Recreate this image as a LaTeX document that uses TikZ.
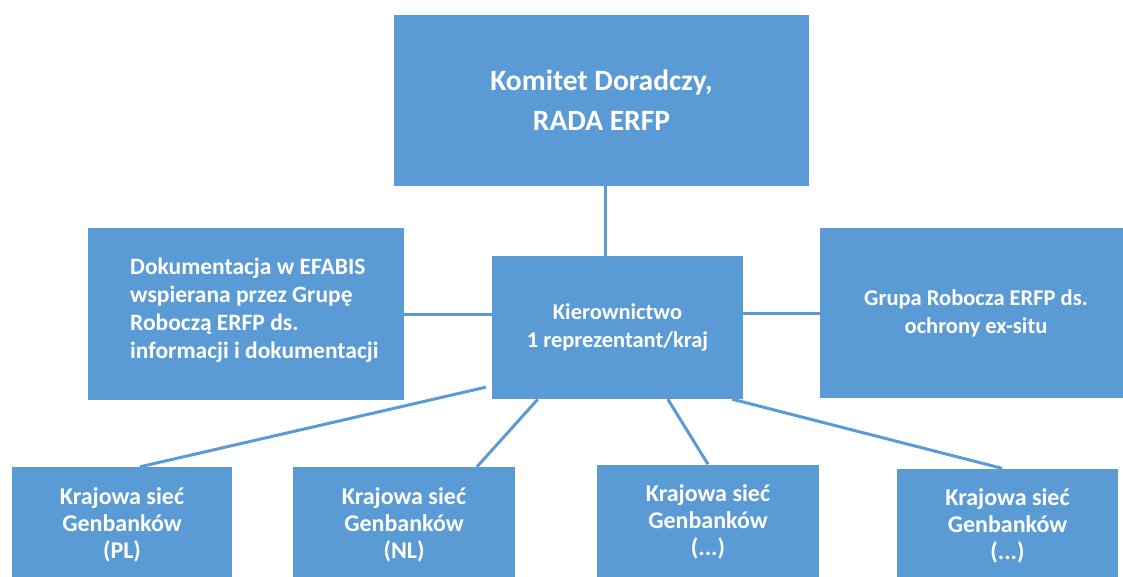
\documentclass[tikz,border=0pt]{standalone}
\usepackage{fontspec}
\setmainfont{Carlito}
\usetikzlibrary{calc}
\definecolor{boxblue}{RGB}{91,155,213}
\tikzset{
  orgbox/.style={fill=boxblue, draw=none, inner sep=0pt, text=white, font=\bfseries\fontsize{22.5}{28}\selectfont, align=center},
  bigtext/.style={font=\bfseries\fontsize{29.5}{40}\selectfont},
  smalltext/.style={font=\bfseries\fontsize{24}{27}\selectfont},
  link/.style={draw=boxblue, line width=3pt}
}
\begin{document}
\begin{tikzpicture}[x=1pt,y=-1pt]
\useasboundingbox (0,0) rectangle (1123,576);
% boxes
\node[orgbox, bigtext, minimum width=415pt, minimum height=171pt] (top) at (601.5,100.5) {\raisebox{-4pt}{\parbox{300pt}{\centering Komitet Doradczy,\\RADA ERFP}}};
\node[orgbox, minimum width=316pt, minimum height=172pt] (left) at (246,314) {};
\node[text=white, font=\bfseries\fontsize{23.5}{28}\selectfont, align=left, anchor=west, inner sep=0pt] (lefttext) at (130,310)
  {Dokumentacja w EFABIS\\wspierana przez Grupę\\Roboczą ERFP ds.\\informacji i dokumentacji};
\node[orgbox, minimum width=251pt, minimum height=143pt] (mid) at (617.5,327.5) {Kierownictwo\\1 reprezentant/kraj};
\node[orgbox, minimum width=312pt, minimum height=170pt] (right) at (976,313) {Grupa Robocza ERFP ds.\\ochrony ex-situ};
\node[orgbox, smalltext, minimum width=220pt, minimum height=115pt] (b1) at (122,524.5) {Krajowa sieć\\Genbanków\\(PL)};
\node[orgbox, smalltext, minimum width=222pt, minimum height=115pt] (b2) at (404,524.5) {Krajowa sieć\\Genbanków\\(NL)};
\node[orgbox, smalltext, minimum width=222pt, minimum height=115pt] (b3) at (708,522) {Krajowa sieć\\Genbanków\\(...)};
\node[orgbox, smalltext, minimum width=221pt, minimum height=115pt] (b4) at (1007.5,526) {Krajowa sieć\\Genbanków\\(...)};
% connectors
\coordinate (vx) at (605,0);
\draw[link] (top.south -| vx) -- (mid.north -| vx);
\draw[link] (left.east) -- (left.east -| mid.west);
\draw[link] (right.west) -- (right.west -| mid.east);
\draw[link] ($(mid.south west)+(-6pt,12pt)$) -- ($(b1.north)+(18pt,0pt)$);
\draw[link] ($(mid.south west)+(46pt,0pt)$) -- ($(b2.north)+(73pt,0pt)$);
\draw[link] ($(mid.south west)+(176pt,0pt)$) -- ($(b3.north)+(0pt,0pt)$);
\draw[link] ($(mid.south east)+(-11pt,0pt)$) -- ($(b4.north)+(-5.5pt,0pt)$);
\end{tikzpicture}
\end{document}
